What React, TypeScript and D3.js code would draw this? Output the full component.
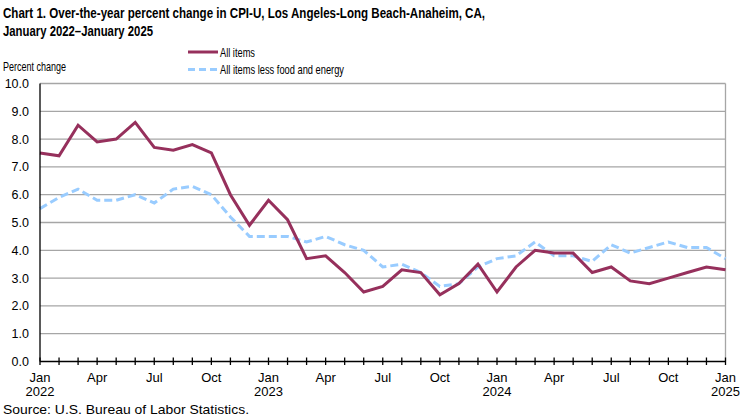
import React, { useEffect, useRef } from 'react';
import * as d3 from 'd3';

// Monthly over-the-year percent change, Jan 2022 – Jan 2025
const months = [
  'Jan', 'Feb', 'Mar', 'Apr', 'May', 'Jun', 'Jul', 'Aug', 'Sep', 'Oct', 'Nov', 'Dec',
  'Jan', 'Feb', 'Mar', 'Apr', 'May', 'Jun', 'Jul', 'Aug', 'Sep', 'Oct', 'Nov', 'Dec',
  'Jan', 'Feb', 'Mar', 'Apr', 'May', 'Jun', 'Jul', 'Aug', 'Sep', 'Oct', 'Nov', 'Dec',
  'Jan',
];

const allItems = [
  7.5, 7.4, 8.5, 7.9, 8.0, 8.6, 7.7, 7.6, 7.8, 7.5, 6.0, 4.9,
  5.8, 5.1, 3.7, 3.8, 3.2, 2.5, 2.7, 3.3, 3.2, 2.4, 2.8, 3.5,
  2.5, 3.4, 4.0, 3.9, 3.9, 3.2, 3.4, 2.9, 2.8, 3.0, 3.2, 3.4,
  3.3,
];

const lessFoodEnergy = [
  5.5, 5.9, 6.2, 5.8, 5.8, 6.0, 5.7, 6.2, 6.3, 6.0, 5.2, 4.5,
  4.5, 4.5, 4.3, 4.5, 4.2, 4.0, 3.4, 3.5, 3.2, 2.7, 2.8, 3.4,
  3.7, 3.8, 4.3, 3.8, 3.8, 3.6, 4.2, 3.9, 4.1, 4.3, 4.1, 4.1,
  3.7,
];

const yTicks = [0, 1, 2, 3, 4, 5, 6, 7, 8, 9, 10];
const labelIdx = [0, 3, 6, 9, 12, 15, 18, 21, 24, 27, 30, 33, 36];
const yearLabels: Record<number, string> = { 0: '2022', 12: '2023', 24: '2024', 36: '2025' };

const W = 751;
const H = 420;
const FONT = "'Liberation Sans', Arial, sans-serif";

const App: React.FC = () => {
  const svgRef = useRef<SVGSVGElement>(null);

  useEffect(() => {
    if (!svgRef.current) return;
    const svg = d3.select(svgRef.current);
    svg.selectAll('*').remove();

    const left = 40, right = 725.5, top = 83.5, bottom = 361.5;

    const x = d3.scaleLinear().domain([0, months.length - 1]).range([left, right]);
    const y = d3.scaleLinear().domain([0, 10]).range([bottom, top]);

    // Title
    svg.append('text')
      .attr('x', 3).attr('y', 18)
      .attr('font-family', FONT).attr('font-weight', 700).attr('font-size', 15.5)
      .attr('textLength', 482).attr('lengthAdjust', 'spacingAndGlyphs')
      .text('Chart 1. Over-the-year percent change in CPI-U, Los Angeles-Long Beach-Anaheim, CA,');
    svg.append('text')
      .attr('x', 3).attr('y', 36)
      .attr('font-family', FONT).attr('font-weight', 700).attr('font-size', 15.5)
      .attr('textLength', 150).attr('lengthAdjust', 'spacingAndGlyphs')
      .text('January 2022–January 2025');

    // Legend
    const legend = [
      { label: 'All items', color: '#96305c', dash: null as string | null, y: 52, len: 35 },
      { label: 'All items less food and energy', color: '#99ccff', dash: '7,4', y: 69.5, len: 124 },
    ];
    legend.forEach(l => {
      const ln = svg.append('line')
        .attr('x1', 188).attr('x2', 218).attr('y1', l.y).attr('y2', l.y)
        .attr('stroke', l.color).attr('stroke-width', 3);
      if (l.dash) ln.attr('stroke-dasharray', l.dash);
      svg.append('text')
        .attr('x', 220).attr('y', l.y + 4.5)
        .attr('font-family', FONT).attr('font-size', 13)
        .attr('textLength', l.len).attr('lengthAdjust', 'spacingAndGlyphs')
        .text(l.label);
    });

    svg.append('text')
      .attr('x', 3).attr('y', 71)
      .attr('font-family', FONT).attr('font-size', 13)
      .attr('textLength', 63).attr('lengthAdjust', 'spacingAndGlyphs')
      .text('Percent change');

    // Gridlines
    svg.append('g')
      .selectAll('line')
      .data(yTicks.filter(t => t > 0))
      .join('line')
      .attr('x1', left).attr('x2', right)
      .attr('y1', d => y(d)).attr('y2', d => y(d))
      .attr('stroke', '#a6a6a6').attr('stroke-width', 1.3);

    // Right border
    svg.append('line')
      .attr('x1', right).attr('x2', right).attr('y1', top).attr('y2', bottom)
      .attr('stroke', '#a6a6a6').attr('stroke-width', 1.3);

    // Y labels
    svg.append('g')
      .selectAll('text')
      .data(yTicks)
      .join('text')
      .attr('x', 29).attr('y', d => y(d) + 4.5)
      .attr('text-anchor', 'end')
      .attr('font-family', FONT).attr('font-size', 12.5)
      .text(d => d.toFixed(1));

    // Lines
    const line = d3.line<number>().x((_, i) => x(i)).y(d => y(d));
    svg.append('path')
      .datum(lessFoodEnergy)
      .attr('d', line)
      .attr('fill', 'none').attr('stroke', '#99ccff').attr('stroke-width', 3)
      .attr('stroke-dasharray', '8,4');
    svg.append('path')
      .datum(allItems)
      .attr('d', line)
      .attr('fill', 'none').attr('stroke', '#96305c').attr('stroke-width', 3)
      .attr('stroke-linejoin', 'miter');

    // Axes
    svg.append('line')
      .attr('x1', left).attr('x2', left).attr('y1', top).attr('y2', bottom)
      .attr('stroke', '#000').attr('stroke-width', 1.3);
    svg.append('line')
      .attr('x1', left).attr('x2', right).attr('y1', bottom).attr('y2', bottom)
      .attr('stroke', '#000').attr('stroke-width', 1.3);
    svg.append('g')
      .selectAll('line')
      .data(d3.range(months.length))
      .join('line')
      .attr('x1', d => x(d)).attr('x2', d => x(d))
      .attr('y1', bottom - 4).attr('y2', bottom + 3.5)
      .attr('stroke', '#000').attr('stroke-width', 1.3);

    // X labels
    svg.append('g')
      .selectAll('text')
      .data(labelIdx)
      .join('text')
      .attr('x', d => x(d)).attr('y', 382)
      .attr('text-anchor', 'middle')
      .attr('font-family', FONT).attr('font-size', 13)
      .text(d => months[d]);
    svg.append('g')
      .selectAll('text')
      .data(Object.keys(yearLabels).map(Number))
      .join('text')
      .attr('x', d => x(d)).attr('y', 396)
      .attr('text-anchor', 'middle')
      .attr('font-family', FONT).attr('font-size', 13)
      .text(d => yearLabels[d]);

    svg.append('text')
      .attr('x', 3).attr('y', 414)
      .attr('font-family', FONT).attr('font-size', 13)
      .attr('textLength', 246).attr('lengthAdjust', 'spacingAndGlyphs')
      .text('Source: U.S. Bureau of Labor Statistics.');
  }, []);

  return (
    <svg
      ref={svgRef}
      width={W}
      height={H}
      style={{ position: 'absolute', left: 0, top: 0, background: '#fff' }}
    />
  );
};

export default App;
